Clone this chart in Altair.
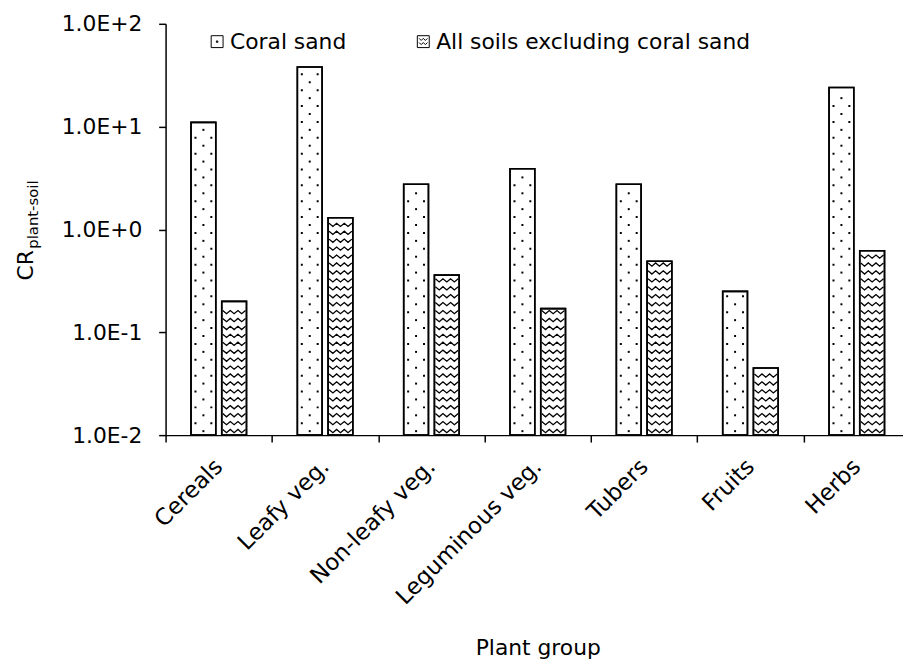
import altair as alt
import pandas as pd

# ---------------- data ----------------
categories = ["Cereals", "Leafy veg.", "Non-leafy veg.", "Leguminous veg.", "Tubers", "Fruits", "Herbs"]
series_names = ["Coral sand", "All soils excluding coral sand"]
coral_sand = [11, 38, 2.75, 3.9, 2.75, 0.25, 24]
other_soils = [0.2, 1.3, 0.36, 0.17, 0.49, 0.045, 0.62]
y_ticks = [0.01, 0.1, 1, 10, 100]
x_title = "Plant group"
y_title_main = ["CR"]
y_title_sub = ["plant-soil"]

rows = []
for c, a, b in zip(categories, coral_sand, other_soils):
    rows.append({"group": c, "series": series_names[0], "value": a})
    rows.append({"group": c, "series": series_names[1], "value": b})
df = pd.DataFrame(rows)

# ---------------- layout / style ----------------
W = 744
H = 415
BAND_RANGE = 751
PX = H / 4.0          # pixels per decade on the log axis
ROW = 8               # pattern row spacing in px
FONT = "DejaVu Sans"
FS = 22
Y_MIN = y_ticks[0]

x_axis = alt.Axis(labelAngle=-45, labelFont=FONT, labelFontSize=23, labelColor="black",
                  labelLimit=400, labelPadding=13, labelOffset=-8, tickBand="extent",
                  tickSize=7, tickColor="black",
                  tickWidth=1.5, domainColor="black", domainWidth=1.5,
                  title=x_title, titleFont=FONT, titleFontSize=FS, titleFontWeight="normal",
                  titleColor="black", titleBaseline="alphabetic", titleY=221)
y_axis = alt.Axis(values=y_ticks, grid=False, labelFont=FONT, labelFontSize=FS,
                  labelColor="black", labelPadding=17, tickSize=7, tickColor="black",
                  tickWidth=1.5, domainColor="black", domainWidth=1.5, title=None,
                  labelExpr="'1.0E' + (round(log(datum.value)/LN10) >= 0 ? '+' : '') + round(log(datum.value)/LN10)")

x_enc = alt.X("group:N", sort=categories,
              scale=alt.Scale(paddingInner=0, paddingOuter=0, range=[0, BAND_RANGE]),
              axis=x_axis)
xoff = alt.XOffset("series:N", sort=series_names,
                   scale=alt.Scale(domain=series_names, paddingInner=0.194, paddingOuter=0.828))
y_scale = alt.Scale(type="log", domain=[y_ticks[0], y_ticks[-1]])

base = alt.Chart(df)

bars = base.mark_bar(fill="white", stroke="black", strokeWidth=1.6).encode(
    x=x_enc, xOffset=xoff, y=alt.Y("value:Q", scale=y_scale, axis=y_axis),
    y2=alt.datum(Y_MIN)
)
outline = base.mark_bar(fillOpacity=0, stroke="black", strokeWidth=1.6).encode(
    x=x_enc, xOffset=xoff, y=alt.Y("value:Q", scale=y_scale, axis=y_axis),
    y2=alt.datum(Y_MIN)
)

def pattern_rows(src):
    return (src
            .transform_calculate(nrows=f"max(0, floor(((log(datum.value)/LN10 + 2)*{PX} - 7)/{ROW}) + 1)")
            .transform_calculate(rowlist="sequence(0, datum.nrows)")
            .transform_flatten(["rowlist"], as_=["ri"])
            .transform_calculate(yv=f"pow(10, -2 + (4 + {ROW}*datum.ri)/{PX})")
            .transform_calculate(par="datum.ri % 2"))

dot_center = "M-0.08,-0.08L0.08,-0.08L0.08,0.08L-0.08,0.08Z"
dot_sides = ("M-0.72,-0.08L-0.56,-0.08L-0.56,0.08L-0.72,0.08Z"
             "M0.56,-0.08L0.72,-0.08L0.72,0.08L0.56,0.08Z")
wave = "M-0.92,-0.14L-0.61,0.12L-0.31,-0.14L0,0.12L0.31,-0.14L0.61,0.12L0.92,-0.14"

coral_rows = pattern_rows(base.transform_filter(alt.datum.series == series_names[0]))
other_rows = pattern_rows(base.transform_filter(alt.datum.series == series_names[1]))

dots_a = coral_rows.transform_filter("datum.par == 0").mark_point(
    shape=dot_center, size=625, filled=True, color="black", opacity=1, strokeWidth=0
).encode(x=x_enc, xOffset=xoff, y=alt.Y("yv:Q", scale=y_scale, axis=y_axis))
dots_b = coral_rows.transform_filter("datum.par == 1").mark_point(
    shape=dot_sides, size=625, filled=True, color="black", opacity=1, strokeWidth=0
).encode(x=x_enc, xOffset=xoff, y=alt.Y("yv:Q", scale=y_scale, axis=y_axis))
waves = other_rows.mark_point(
    shape=wave, size=625, filled=False, color="black", opacity=1, strokeWidth=1.3
).encode(x=x_enc, xOffset=xoff, y=alt.Y("yv:Q", scale=y_scale, axis=y_axis))

leg_coral = "M-1,-1L1,-1L1,1L-1,1ZM-0.12,-0.12L0.12,-0.12L0.12,0.12L-0.12,0.12Z"
leg_other = ("M-1,-1L1,-1L1,1L-1,1Z"
             "M-0.7,-0.55L-0.35,-0.2L0,-0.55L0.35,-0.2L0.7,-0.55"
             "M-0.7,0.15L-0.35,0.5L0,0.15L0.35,0.5L0.7,0.15")
legend_layer = base.transform_filter("datum.value < 0").mark_point(
    filled=False, color="black", opacity=1, strokeWidth=1
).encode(
    x=x_enc, y=alt.Y("value:Q", scale=y_scale, axis=y_axis),
    shape=alt.Shape("series:N", sort=series_names,
                    scale=alt.Scale(domain=series_names, range=[leg_coral, leg_other]),
                    legend=alt.Legend(title=None, orient="none", legendX=41, legendY=7,
                                      direction="horizontal", labelFont=FONT, labelFontSize=FS,
                                      labelColor="black", labelLimit=500, symbolSize=144,
                                      symbolStrokeWidth=1, symbolStrokeColor="black",
                                      columnPadding=66, labelOffset=2, padding=0))
)

title_main = alt.Chart(pd.DataFrame({"t": y_title_main})).mark_text(
    angle=270, align="left", baseline="alphabetic", font=FONT, fontSize=FS, color="black"
).encode(text="t:N", x=alt.value(-133.5), y=alt.value(259))
title_sub = alt.Chart(pd.DataFrame({"t": y_title_sub})).mark_text(
    angle=270, align="left", baseline="alphabetic", font=FONT, fontSize=15, color="black"
).encode(text="t:N", x=alt.value(-129), y=alt.value(227))

chart = alt.layer(bars, dots_a, dots_b, waves, outline, legend_layer, title_main, title_sub).properties(
    width=W, height=H,
    autosize=alt.AutoSizeParams(type="none"),
    padding={"left": 159, "top": 13, "right": 0, "bottom": 230},
    background="white",
).configure_view(stroke=None)

chart.save("out.html", embed_options={"renderer": "svg", "actions": False})
